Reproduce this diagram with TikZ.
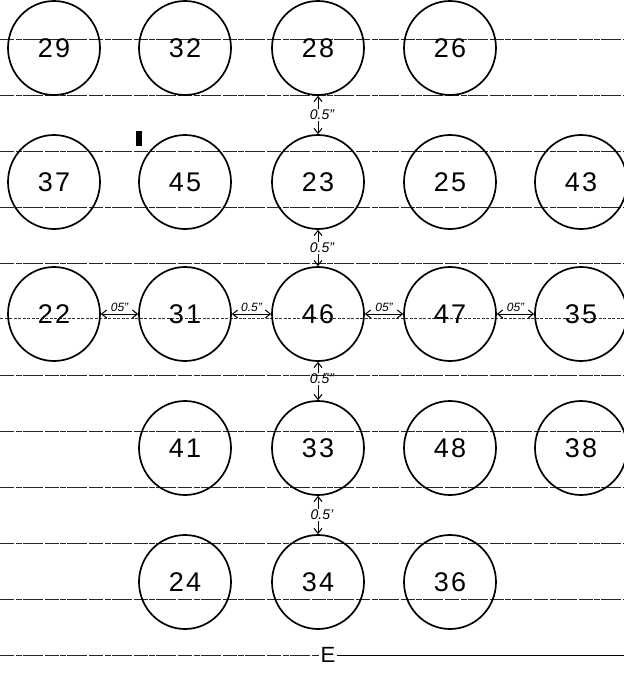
\documentclass[tikz,border=0pt]{standalone}
\usepackage{fontspec}
\setmainfont{Liberation Sans}
\usetikzlibrary{arrows.meta,shapes.geometric}
\begin{document}
\begin{tikzpicture}[x=1pt,y=-1pt,
  rule/.style={line width=0.8pt, black!85, dash pattern=on 14pt off 1.5pt on 6pt off 1pt on 20pt off 2pt},
  dotrule/.style={line width=0.8pt, black!80, dash pattern=on 3pt off 1.5pt},
  cell/.style={ellipse, draw, line width=1.7pt, minimum width=92pt, minimum height=94pt, inner sep=0pt, font=\fontsize{27}{27}\selectfont\addfontfeature{LetterSpace=8}},
  tip/.style={line width=1pt, -{Straight Barb[length=5pt,width=8pt]}},
  dim/.style={line width=1pt, {Straight Barb[length=5pt,width=8pt]}-{Straight Barb[length=5pt,width=8pt]}},
  vlab/.style={font=\itshape\fontsize{14}{14}\selectfont, inner sep=1pt},
  hlab/.style={font=\itshape\fontsize{12}{12}\selectfont, inner sep=1pt, above=1pt}]
\useasboundingbox (0,0) rectangle (624,673);
% ruled paper
\foreach \y in {39,95,151,207,263,375,431,487,543,599}
  \draw[rule] (0,\y) -- (624,\y);
\draw[dotrule] (0,318) -- (624,318);
% row 1
\node[cell] (c29) at (54,48) {29};
\node[cell] (c32) at (185,48) {32};
\node[cell] (c28) at (318,48) {28};
\node[cell] (c26) at (450,48) {26};
% row 2
\node[cell] (c37) at (54,182) {37};
\node[cell] (c45) at (185,182) {45};
\node[cell] (c23) at (318,182) {23};
\node[cell] (c25) at (450,182) {25};
\node[cell] (c43) at (581,182) {43};
% row 3
\node[cell] (c22) at (54,314) {22};
\node[cell] (c31) at (185,314) {31};
\node[cell] (c46) at (318,314) {46};
\node[cell] (c47) at (450,314) {47};
\node[cell] (c35) at (581,314) {35};
% row 4
\node[cell] (c41) at (185,448) {41};
\node[cell] (c33) at (318,448) {33};
\node[cell] (c48) at (450,448) {48};
\node[cell] (c38) at (581,448) {38};
% row 5
\node[cell] (c24) at (185,582) {24};
\node[cell] (c34) at (318,582) {34};
\node[cell] (c36) at (450,582) {36};
% vertical dimensions
\path (c28.south) -- (c23.north) node[pos=0.5, vlab, xshift=4pt] (l1) {0.5''};
\draw[tip] (c28.south |- l1.north) -- (c28.south);
\draw[tip] (c23.north |- l1.south) -- (c23.north);
\path (c23.south) -- (c46.north) node[pos=0.5, vlab, xshift=4pt] (l2) {0.5''};
\draw[tip] (c23.south |- l2.north) -- (c23.south);
\draw[tip] (c46.north |- l2.south) -- (c46.north);
\path (c46.south) -- (c33.north) node[pos=0.45, vlab, xshift=4pt] (l3) {0.5''};
\draw[tip] (c46.south |- l3.north) -- (c46.south);
\draw[tip] (c33.north |- l3.south) -- (c33.north);
\path (c33.south) -- (c34.north) node[pos=0.5, vlab, xshift=4pt] (l4) {0.5'};
\draw[tip] (c33.south |- l4.north) -- (c33.south);
\draw[tip] (c34.north |- l4.south) -- (c34.north);
% horizontal dimensions
\draw[dim] (c22) -- (c31) node[midway, hlab] {05''};
\draw[dim] (c31) -- (c46) node[midway, hlab] {0.5''};
\draw[dim] (c46) -- (c47) node[midway, hlab] {05''};
\draw[dim] (c47) -- (c35) node[midway, hlab] {05''};
% bottom mark
\node[font=\fontsize{22}{22}\selectfont, inner sep=1pt] (E) at (328,655) {E};
\draw[rule] (0,655) -- (E.west);
\draw[line width=0.8pt] (E.east) -- (624,655);
% stray ink mark
\fill (136,131) rectangle (142,146);
\end{tikzpicture}
\end{document}
